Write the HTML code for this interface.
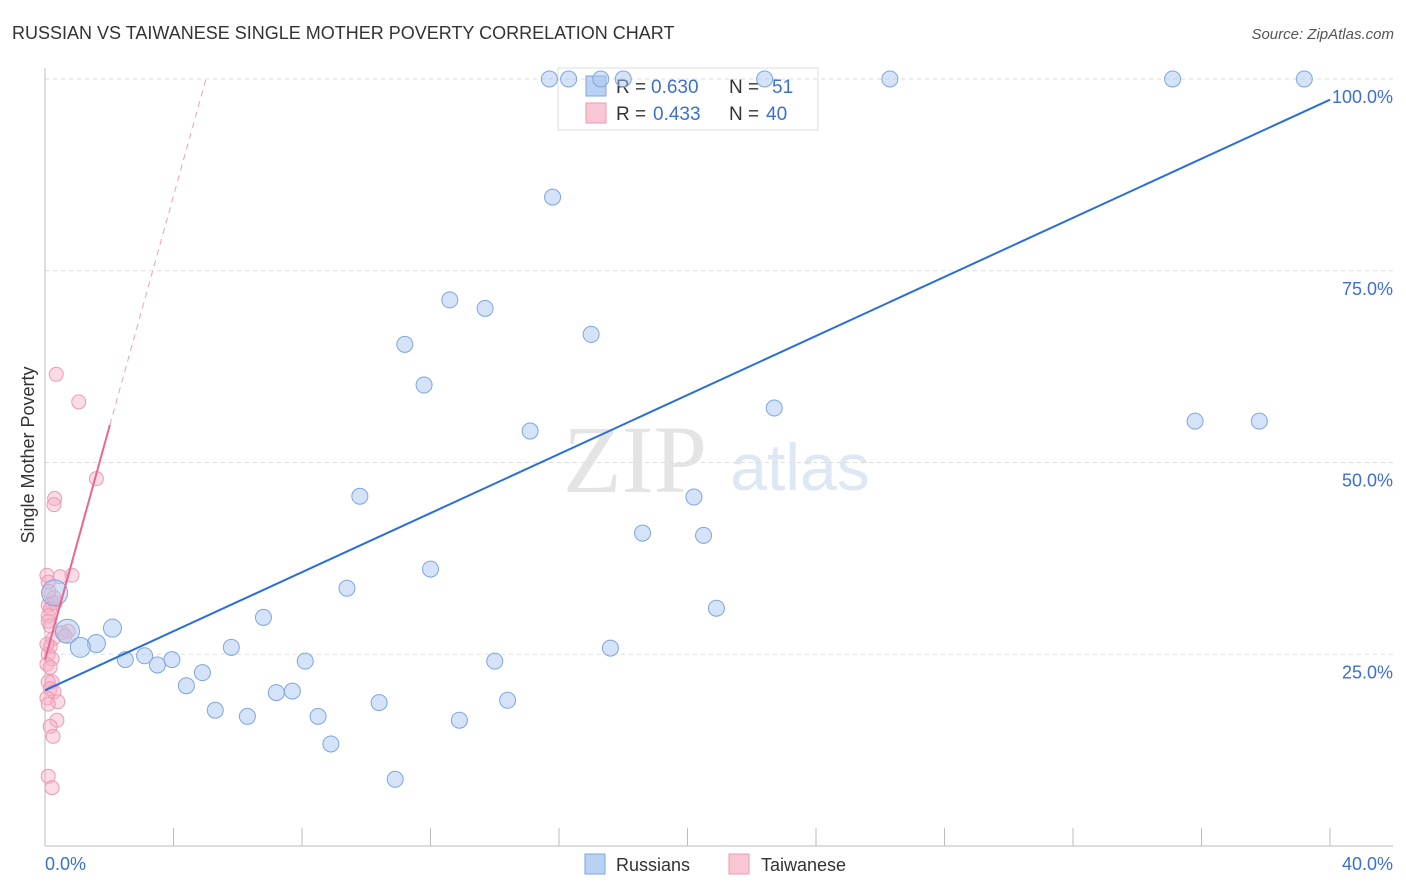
<!DOCTYPE html>
<html><head><meta charset="utf-8">
<style>
body{margin:0;background:#fff;font-family:"Liberation Sans",sans-serif;}
svg{display:block}
</style></head>
<body>
<svg id="chart" width="1406" height="892" xmlns="http://www.w3.org/2000/svg">
<text x="12" y="39" font-size="18" fill="#333">RUSSIAN VS TAIWANESE SINGLE MOTHER POVERTY CORRELATION CHART</text>
<text x="1394" y="39" font-size="15" fill="#555" font-style="italic" text-anchor="end">Source: ZipAtlas.com</text>
<text x="635" y="492" font-size="96" fill="#e4e4e4" font-family="Liberation Serif,serif" text-anchor="middle">ZIP</text>
<text x="800" y="490" font-size="66" fill="#dde8f4" text-anchor="middle">atlas</text>
<g>
<rect x="558" y="68" width="260" height="62" fill="#fff" stroke="#ddd"/>
<rect x="586" y="76" width="20" height="20" fill="#b9d2f3" stroke="#7ea6e0"/>
<rect x="586" y="103" width="20" height="20" fill="#f9c6d4" stroke="#ec9ab2"/>
<text x="616" y="93" font-size="19" fill="#333">R =</text>
<text x="651" y="93" font-size="19" fill="#3b6fd0">0.630</text>
<text x="729" y="93" font-size="19" fill="#333">N =</text>
<text x="772" y="93" font-size="19" fill="#3b6fd0">51</text>
<text x="616" y="120" font-size="19" fill="#333">R =</text>
<text x="653" y="120" font-size="19" fill="#3b6fd0">0.433</text>
<text x="729" y="120" font-size="19" fill="#333">N =</text>
<text x="766" y="120" font-size="19" fill="#3b6fd0">40</text>
</g>
<g id="grid"></g>
<g id="axes"></g>
<g id="points"></g>
<g id="lines"></g>
<text x="34" y="455" font-size="18" fill="#333" text-anchor="middle" transform="rotate(-90 34 455)">Single Mother Poverty</text>
<text x="45" y="870" font-size="18" fill="#3b6fd0">0.0%</text>
<text x="1393" y="870" font-size="18" fill="#3b6fd0" text-anchor="end">40.0%</text>
<g>
<rect x="585" y="854" width="20" height="20" fill="#b9d2f3" stroke="#7ea6e0"/>
<text x="616" y="871" font-size="18" fill="#333">Russians</text>
<rect x="729" y="854" width="20" height="20" fill="#f9c6d4" stroke="#ec9ab2"/>
<text x="761" y="871" font-size="18" fill="#333">Taiwanese</text>
</g>
</svg>
<script>
const yTicks=[25,50,75,100];
const yTickLabels=["25.0%","50.0%","75.0%","100.0%"];
const xTicks=[0,4,8,12,16,20,24,28,32,36,40];
const russX=[15.7,16.3,17.3,18.0,22.4,26.3,35.1,39.2,15.8,12.6,13.7,17.0,11.2,11.8,22.7,35.8,37.8,15.1,9.8,20.2,18.6,20.5,12.0,9.4,20.9,6.8,2.1,0.7,1.6,1.1,0.3,5.8,17.6,2.5,3.1,3.95,3.5,8.1,14.0,4.9,4.4,7.7,7.2,10.4,14.4,5.3,6.3,8.5,12.9,8.9,10.9];
const russY=[100,100,100,100,100,100,100,100,84.6,71.2,70.1,66.7,65.4,60.1,57.1,55.4,55.4,54.1,45.6,45.5,40.8,40.5,36.1,33.6,31.0,29.8,28.4,28.0,26.4,25.9,33.0,25.9,25.8,24.3,24.8,24.3,23.6,24.1,24.1,22.6,20.9,20.2,20.0,18.7,19.0,17.7,16.9,16.9,16.4,13.3,8.7];
const russR=[8,8,8,8,8,8,8,8,8,8,8,8,8,8,8,8,8,8,8,8,8,8,8,8,8,8,9,12,9,10,13,8,8,8,8,8,8,8,8,8,8,8,8,8,8,8,8,8,8,8,8];
const taiX=[0.35,1.05,1.6,0.3,0.28,0.84,0.06,0.47,0.1,0.22,0.1,0.31,0.16,0.1,0.72,0.53,0.25,0.16,0.1,0.22,0.06,0.16,0.22,0.1,0.16,0.28,0.06,0.4,0.1,0.37,0.16,0.25,0.1,0.22,0.1,0.16,0.62,0.06,0.28,0.12];
const taiY=[61.5,57.9,47.9,45.3,44.5,35.3,35.3,35.1,34.4,31.7,31.4,31.7,30.9,30.0,28.0,27.8,27.0,26.0,25.0,24.4,23.7,23.3,21.4,21.4,20.5,20.1,19.3,18.8,18.5,16.4,15.6,14.3,9.1,7.6,29.3,28.7,27.4,26.3,32.4,33.2];
const taiR=[7,7,7,7,7,7,7,7,7,7,7,7,7,7,7,7,7,7,7,7,7,7,7,7,7,7,7,7,7,7,7,7,7,7,7,7,7,7,7,7];
const blueLine=[[0,20.3],[40,97.3]];
const pinkSolid=[[0,24.3],[2.02,54.9]];
const pinkDash=[[2.02,54.9],[5.01,100]];
const NS="http://www.w3.org/2000/svg";
const X=v=>45+v*32.125;
const Y=v=>846-v*7.67;
function mk(tag,attrs,parent){const e=document.createElementNS(NS,tag);for(const k in attrs)e.setAttribute(k,attrs[k]);parent.appendChild(e);return e;}
const grid=document.getElementById('grid'),axes=document.getElementById('axes'),pts=document.getElementById('points'),lines=document.getElementById('lines');
yTicks.forEach((t,i)=>{
 const l=mk('line',{x1:45,x2:1393,y1:Y(t),y2:Y(t),stroke:'#ddd','stroke-dasharray':'4,4'},grid);
 
 
 const tx=mk('text',{x:1393,y:Y(t)+24,'font-size':18,fill:'#3b6fd0','text-anchor':'end'},grid);
 tx.textContent=yTickLabels[i];
 
 
});
const ya=mk('line',{x1:45,x2:45,y1:68,y2:846,stroke:'#bbb'},axes);


const xa=mk('line',{x1:45,x2:1393,y1:846,y2:846,stroke:'#bbb'},axes);


xTicks.forEach(t=>{
 const l=mk('line',{x1:X(t),x2:X(t),y1:828,y2:846,stroke:'#bbb'},axes);
 
 
});
taiX.forEach((v,i)=>{
 const c=mk('circle',{cx:X(v),cy:Y(taiY[i]),r:taiR[i],fill:'rgba(246,176,198,0.45)',stroke:'#ee9ab4','stroke-width':1},pts);
 
 
});
russX.forEach((v,i)=>{
 const c=mk('circle',{cx:X(v),cy:Y(russY[i]),r:russR[i],fill:'rgba(170,200,240,0.5)',stroke:'#7ea6e0','stroke-width':1},pts);
 
 
});
const bl=mk('line',{x1:X(blueLine[0][0]),y1:Y(blueLine[0][1]),x2:X(blueLine[1][0]),y2:Y(blueLine[1][1]),stroke:'#2a6fd6','stroke-width':2},lines);


const ps=mk('line',{x1:X(pinkSolid[0][0]),y1:Y(pinkSolid[0][1]),x2:X(pinkSolid[1][0]),y2:Y(pinkSolid[1][1]),stroke:'#e8668f','stroke-width':2},lines);


const pd=mk('line',{x1:X(pinkDash[0][0]),y1:Y(pinkDash[0][1]),x2:X(pinkDash[1][0]),y2:Y(pinkDash[1][1]),stroke:'#eea0b8','stroke-width':1,'stroke-dasharray':'6,5'},lines);


</script>
</body></html>
